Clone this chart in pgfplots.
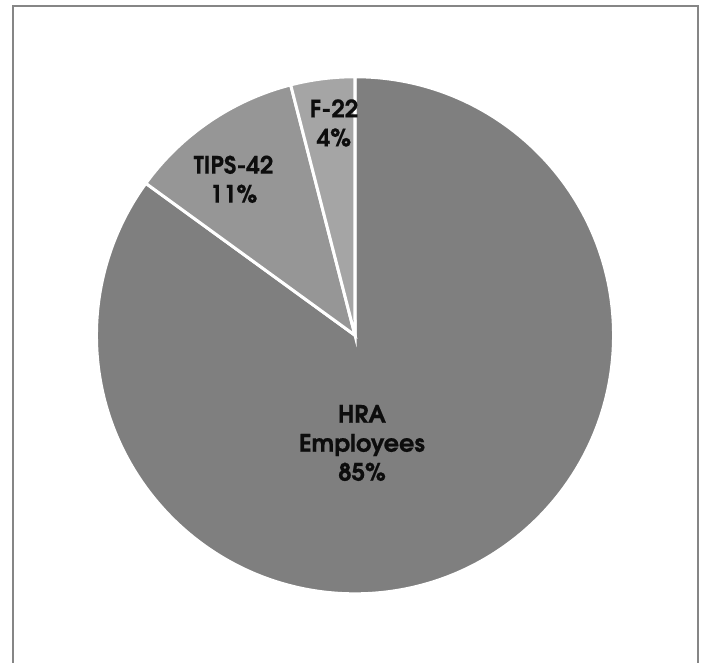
\documentclass[border=0pt]{standalone}
\usepackage{fontspec}
\setmainfont{TeX Gyre Adventor}
\newfontfamily\lbl[FakeBold=0.6]{texgyreadventor-bold.otf}
\usepackage{pgfplots}
\usepackage{pgfplotstable}
\pgfplotsset{compat=1.18}
\definecolor{hraC}{HTML}{7F7F7F}
\definecolor{tipsC}{HTML}{969696}
\definecolor{fC}{HTML}{A5A5A5}
\definecolor{frameC}{HTML}{868686}

\pgfplotstableread[col sep=comma]{
label,value
HRA Employees,85
TIPS-42,11
F-22,4
}\piedata

\pgfplotstablegetelem{0}{value}\of\piedata \edef\vA{\pgfplotsretval}
\pgfplotstablegetelem{1}{value}\of\piedata \edef\vB{\pgfplotsretval}
\pgfplotstablegetelem{2}{value}\of\piedata \edef\vC{\pgfplotsretval}
\pgfmathsetmacro\tot{\vA+\vB+\vC}
\pgfmathsetmacro\aA{90-\vA/\tot*360}
\pgfmathsetmacro\aB{\aA-\vB/\tot*360}
\pgfmathsetmacro\aC{\aB-\vC/\tot*360}
\def\cx{355}
\def\cy{327.7}
\def\R{193.9pt}

\begin{document}
\begin{tikzpicture}
\begin{axis}[x=0.75pt, y=0.75pt, xmin=0, xmax=704, ymin=0, ymax=663,
  hide axis, scale only axis, clip=true]
\fill[white] (rel axis cs:0,0) rectangle (rel axis cs:1,1);
\addplot[frameC, line width=1.5pt] coordinates {(13,-20) (13,657) (698,657) (698,-20)};
\fill[hraC, draw=white, line width=2.25pt] (axis cs:\cx,\cy) -- +(90:\R) arc[start angle=90, end angle=\aA, radius=\R] -- cycle;
\fill[tipsC, draw=white, line width=2.25pt] (axis cs:\cx,\cy) -- +(\aA:\R) arc[start angle=\aA, end angle=\aB, radius=\R] -- cycle;
\fill[fC, draw=white, line width=2.25pt] (axis cs:\cx,\cy) -- +(\aB:\R) arc[start angle=\aB, end angle=\aC, radius=\R] -- cycle;
\node[font=\lbl\fontsize{18}{21.75}\selectfont, align=center, text=black!95] at (axis cs:362,220) {HRA\\Employees\\85\%};
\node[font=\lbl\fontsize{18}{21.75}\selectfont, align=center, text=black!95] at (axis cs:233.5,483.7) {TIPS-42\\11\%};
\node[font=\lbl\fontsize{18}{21.75}\selectfont, align=center, text=black!95] at (axis cs:334,540) {F-22\\4\%};
\end{axis}
\end{tikzpicture}
\end{document}
